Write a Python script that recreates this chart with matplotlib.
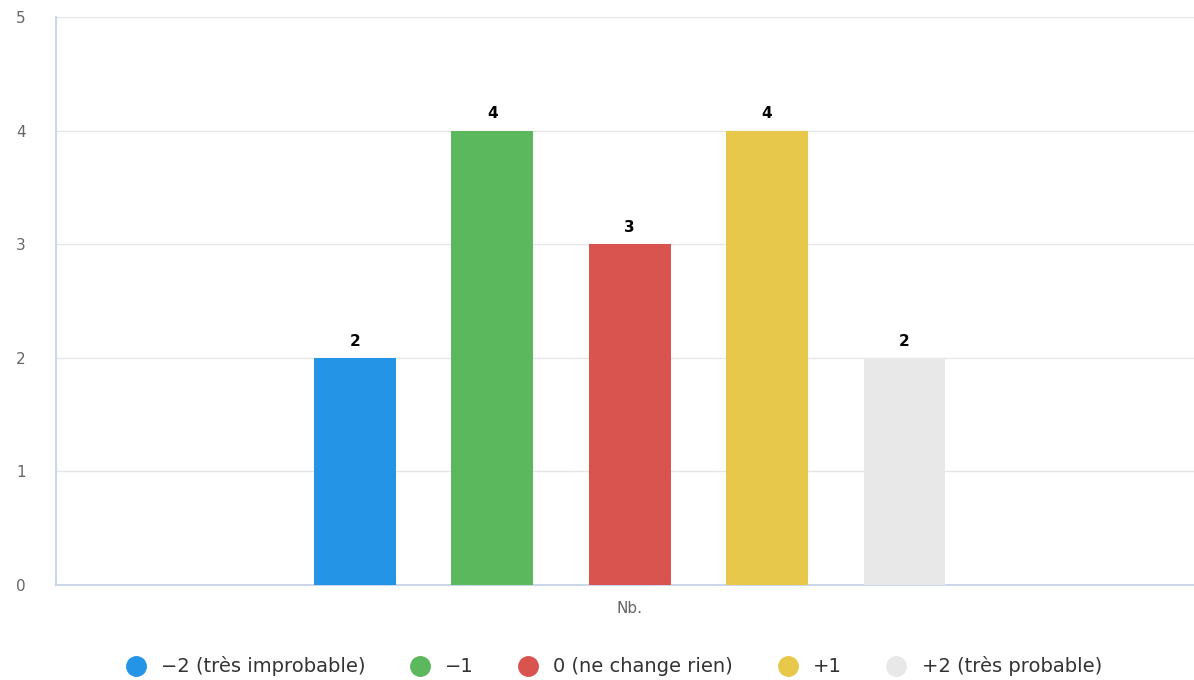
import matplotlib.pyplot as plt
from matplotlib.lines import Line2D

categories = ["\u22122 (très improbable)", "\u22121", "0 (ne change rien)", "+1", "+2 (très probable)"]
values = [2, 4, 3, 4, 2]
colors = ["#2394e6", "#5cb85c", "#d9534f", "#e8c84a", "#e8e8e8"]
x_label = "Nb."

fig = plt.figure(figsize=(11.94, 6.8), dpi=100)
ax = fig.add_axes([0.047, 0.14, 0.953, 0.835])

step = 0.1208
width = 0.072
for i, (val, col) in enumerate(zip(values, colors)):
    xpos = 0.004 + (i - 2) * step
    ax.bar(xpos, val, width=width, color=col, zorder=3)
    ax.text(xpos, val + 0.08, str(val), ha="center", va="bottom",
            fontsize=11, fontweight="bold", color="#000000", zorder=4)

ax.set_xlim(-0.5, 0.5)
ax.set_ylim(0, 5)
ax.set_yticks(range(6))
ax.set_xticks([0.004])
ax.set_xticklabels([x_label])
ax.tick_params(axis="y", length=0, labelsize=11, labelcolor="#666666", pad=22)
ax.tick_params(axis="x", length=0, labelsize=11, labelcolor="#666666", pad=12)
ax.grid(axis="y", color="#e6e6e6", linewidth=1, zorder=0)
for side in ["top", "right"]:
    ax.spines[side].set_visible(False)
for side in ["left", "bottom"]:
    ax.spines[side].set_color("#ccd6eb")
    ax.spines[side].set_linewidth(1.5)

handles = [Line2D([], [], marker="o", linestyle="", markersize=14,
                  markerfacecolor=c, markeredgecolor=c) for c in colors]
fig.legend(handles, categories, loc="center", bbox_to_anchor=(0.51, 0.02),
           ncol=5, frameon=False, fontsize=14, handletextpad=0.3,
           columnspacing=1.8, labelcolor="#333333")

fig.savefig("out.png", dpi=100)
